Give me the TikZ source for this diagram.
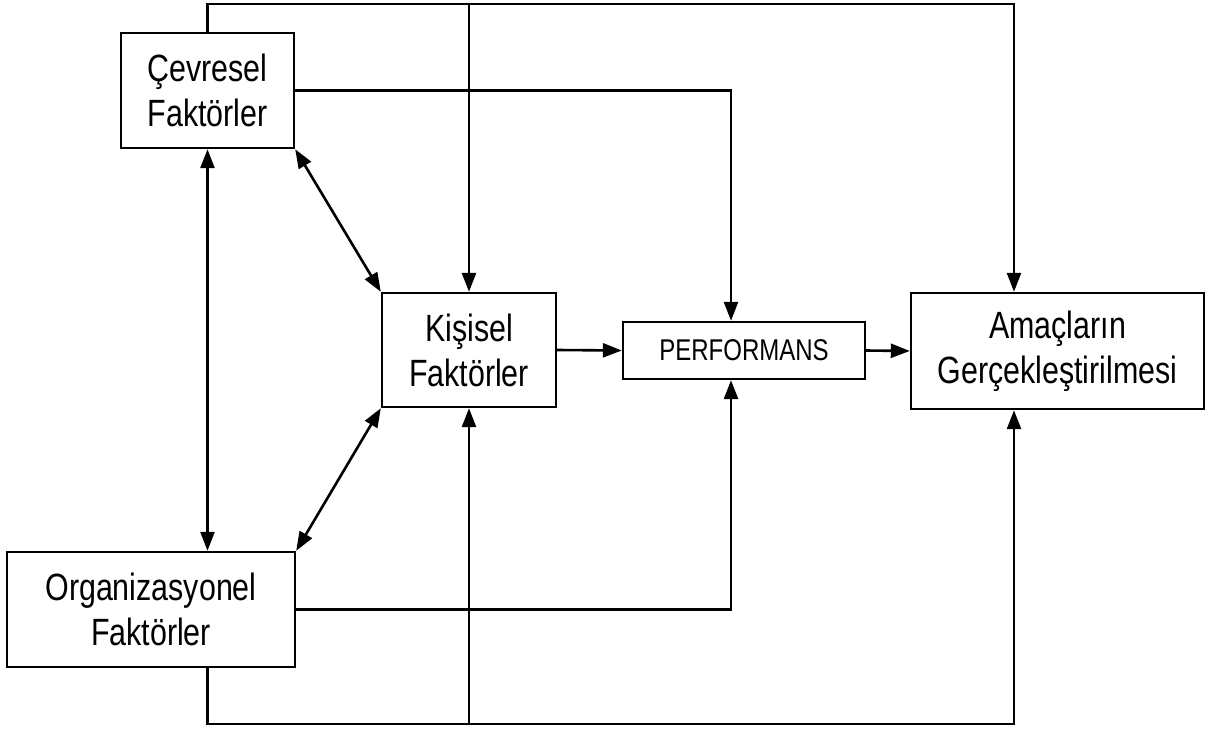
\documentclass[tikz,border=0pt]{standalone}
\usepackage{fontspec}
\usetikzlibrary{arrows.meta}
\newfontfamily\nf[FakeStretch=0.8]{Liberation Sans}
\begin{document}
\begin{tikzpicture}[x=1pt,y=-1pt,
  box/.style={draw,line width=2.4pt,inner sep=0pt,align=center,font=\nf\fontsize{38}{45}\selectfont},
  arr/.style={line width=2.6pt,-{Triangle[length=19pt,width=14pt]}},
  darr/.style={line width=2.6pt,{Triangle[length=19pt,width=14pt]}-{Triangle[length=19pt,width=14pt]}}]
\useasboundingbox (0,0) rectangle (1208,731);
\node[box,minimum width=173pt,minimum height=115pt] (cev) at (207.5,90.5) {Çevresel\\Faktörler};
\node[box,minimum width=174pt,minimum height=114pt] (kis) at (469,350) {Kişisel\\Faktörler};
\node[box,minimum width=242pt,minimum height=57pt,font=\nf\fontsize{30}{36}\selectfont] (perf) at (744,350.5) {PERFORMANS};
\node[box,minimum width=293pt,minimum height=116pt] (ama) at (1057.5,351) {Amaçların\\Gerçekleştirilmesi};
\node[box,minimum width=288pt,minimum height=115pt] (org) at (151,609.5) {Organizasyonel\\Faktörler};
\coordinate (tL) at (207.5,4);
\coordinate (tR) at (1014,4);
\coordinate (bL) at (207.5,724);
\coordinate (bR) at (1014,724);
\coordinate (vx) at (731,0);
% top line
\draw[arr] (cev.north) -- (tL) -- (tR) -- (tR |- ama.north);
\draw[arr] (kis.north |- tR) -- (kis.north);
% Cevresel -> Performans
\draw[arr] (cev.east) -| (perf.north -| vx);
% double arrows
\draw[darr] (cev.south) -- (cev.south |- org.north);
\draw[darr] (cev.south east) -- (kis.north west);
\draw[darr] (org.north east) -- (kis.south west);
% main flow
\draw[arr] (kis.east) -- (perf.west);
\draw[arr] (perf.east) -- (ama.west);
% Organizasyonel -> Performans
\draw[arr] (org.east) -| (perf.south -| vx);
% bottom line
\draw[arr] (org.south -| bL) -- (bL) -- (bR) -- (bR |- ama.south);
\draw[arr] (kis.south |- bR) -- (kis.south);
\end{tikzpicture}
\end{document}
